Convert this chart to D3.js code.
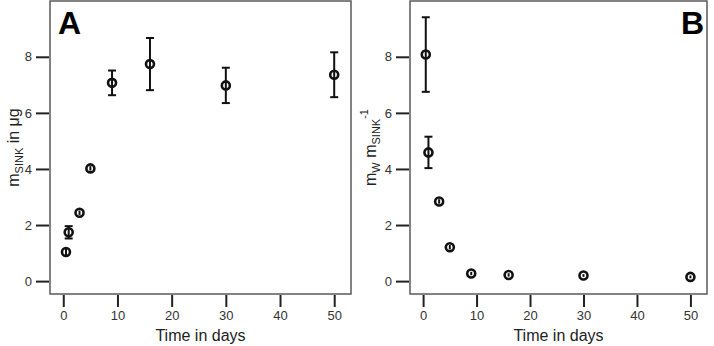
<!DOCTYPE html>
<html>
<head>
<meta charset="utf-8">
<script src="https://cdn.jsdelivr.net/npm/d3@7"></script>
<style>
  body { margin: 0; background: #fff; }
  svg { display: block; font-family: "Liberation Sans", Arial, sans-serif; }
  .frame { fill: none; stroke: #5a5a5a; stroke-width: 1.5; }
  .tick line { stroke: #222; stroke-width: 2; }
  .tick text { fill: #333; font-size: 13px; }
  .domain { display: none; }
  .err { stroke: #111; stroke-width: 2; fill: none; }
  .pt { fill: none; stroke: #111; stroke-width: 2.6; }
  .ttl { fill: #222; font-size: 16px; }
  .tag { fill: #000; font-size: 32px; font-weight: bold; }
</style>
</head>
<body>
<script>
// sampling days, shared by both panels
var days = [0.5, 1, 3, 5, 9, 16, 30, 50];

// panel A: m_SINK in µg
var sinkMass = [1.04, 1.74, 2.44, 4.02, 7.07, 7.74, 6.98, 7.36];
var sinkErr  = [0.12, 0.22, 0.08, 0.08, 0.44, 0.93, 0.63, 0.80];

// panel B: m_W / m_SINK
var ratio    = [8.08, 4.59, 2.84, 1.21, 0.27, 0.22, 0.20, 0.15];
var ratioErr = [1.33, 0.56, 0.08, 0.08, 0.06, 0.06, 0.05, 0.05];

var xTicks = [0, 10, 20, 30, 40, 50];
var yTicks = [0, 2, 4, 6, 8];

const WIDTH = 714;
const HEIGHT = 346;
const TOP = 1;
const BOTTOM = 294;

var svg = d3.select('body').append('svg')
  .attr('width', WIDTH)
  .attr('height', HEIGHT);

var translate = function(x, y){
  return 'translate(' + x + ',' + y + ')';
};

var drawPanel = function(p){
  var x = d3.scaleLinear().domain([-2.45, 53.1]).range([p.left, p.right]);
  var y = d3.scaleLinear().domain([-0.46, 9.99]).range([BOTTOM, TOP]);

  var g = svg.append('g');

  g.append('rect').attr('class', 'frame')
    .attr('x', p.left).attr('y', TOP)
    .attr('width', p.right - p.left).attr('height', BOTTOM - TOP);

  g.append('g')
    .attr('transform', translate(0, BOTTOM + 1))
    .call(d3.axisBottom(x).tickValues(xTicks).tickSize(12).tickPadding(4));

  g.append('g')
    .attr('transform', translate(p.left - 1, 0))
    .call(d3.axisLeft(y).tickValues(yTicks).tickSize(13).tickPadding(4));

  var pts = days.map(function(d, i){ return {x: d, y: p.values[i], e: p.errors[i]}; });

  var bars = g.append('g').selectAll('g').data(pts).enter().append('g');
  bars.append('line').attr('class', 'err')
    .attr('x1', function(d){ return x(d.x); }).attr('x2', function(d){ return x(d.x); })
    .attr('y1', function(d){ return y(d.y + d.e); }).attr('y2', function(d){ return y(d.y - d.e); });
  [1, -1].forEach(function(s){
    bars.filter(function(d){ return d.e > 0.2; })
      .append('line').attr('class', 'err')
      .attr('x1', function(d){ return x(d.x) - 4; }).attr('x2', function(d){ return x(d.x) + 4; })
      .attr('y1', function(d){ return y(d.y + s * d.e); }).attr('y2', function(d){ return y(d.y + s * d.e); });
  });
  bars.append('circle').attr('class', 'pt')
    .attr('cx', function(d){ return x(d.x); })
    .attr('cy', function(d){ return y(d.y); })
    .attr('r', 4);

  g.append('text').attr('class', 'ttl')
    .attr('x', (p.left + p.right) / 2).attr('y', 341)
    .attr('text-anchor', 'middle')
    .text('Time in days');

  var yt = g.append('text').attr('class', 'ttl')
    .attr('transform', translate(p.titleX, (TOP + BOTTOM) / 2) + ' rotate(-90)')
    .attr('text-anchor', 'middle');
  p.title(yt);

  g.append('text').attr('class', 'tag')
    .attr('x', p.tagX).attr('y', 34)
    .attr('text-anchor', p.tagAnchor)
    .text(p.tag);
};

drawPanel({
  left: 50, right: 351, values: sinkMass, errors: sinkErr,
  tag: 'A', tagX: 58, tagAnchor: 'start', titleX: 19,
  title: function(t){
    t.append('tspan').text('m');
    t.append('tspan').attr('font-size', '11px').attr('dy', 4).text('SINK');
    t.append('tspan').attr('dy', -4).text(' in μg');
  }
});

drawPanel({
  left: 410, right: 707, values: ratio, errors: ratioErr,
  tag: 'B', tagX: 704, tagAnchor: 'end', titleX: 376,
  title: function(t){
    t.append('tspan').text('m');
    t.append('tspan').attr('font-size', '11px').attr('dy', 4).text('W');
    t.append('tspan').attr('dy', -4).text(' m');
    t.append('tspan').attr('font-size', '11px').attr('dy', 4).text('SINK');
    t.append('tspan').attr('font-size', '11px').attr('dy', -12).text('-1');
  }
});
</script>
</body>
</html>
